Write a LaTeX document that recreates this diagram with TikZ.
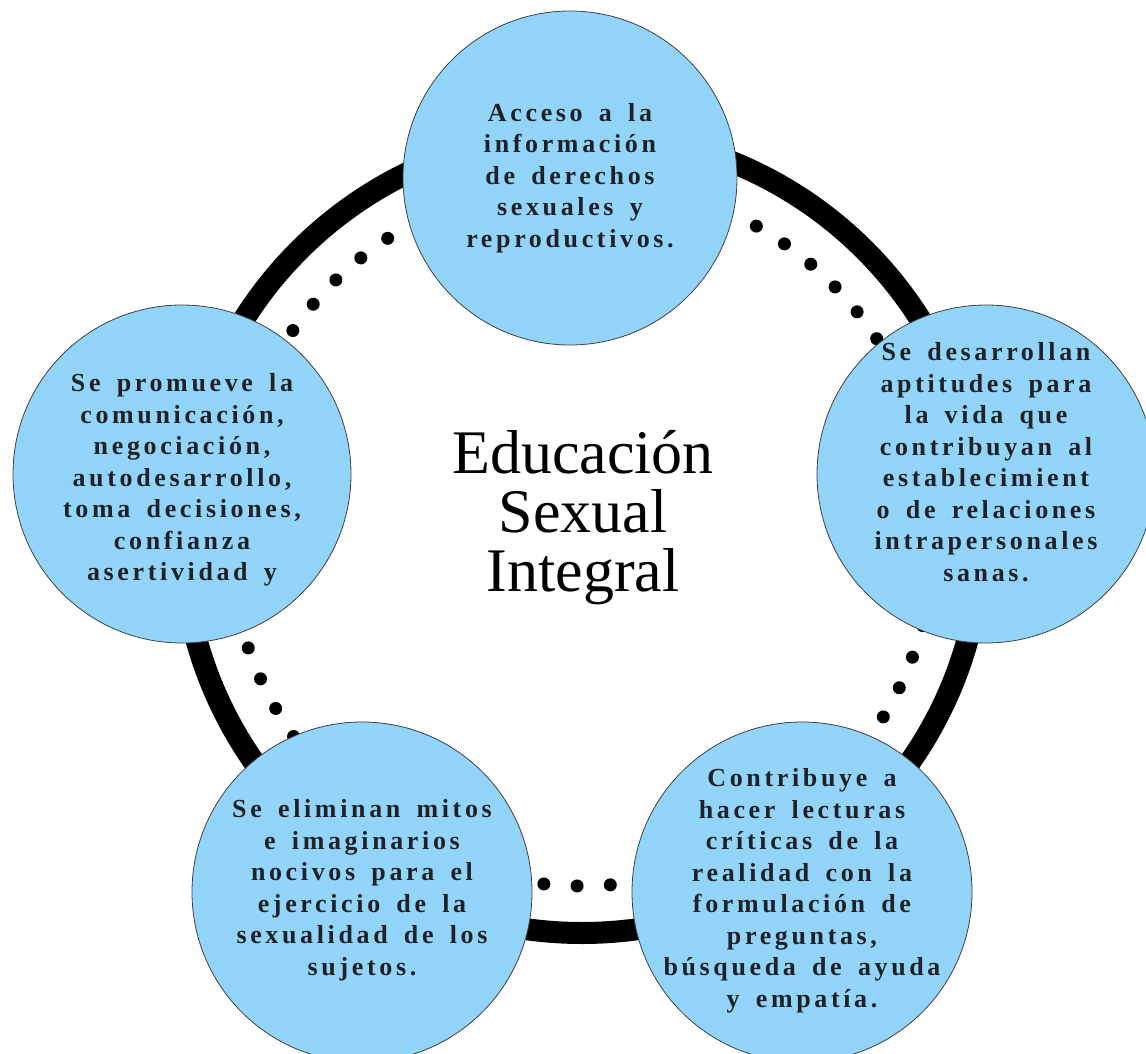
\documentclass[tikz,border=0pt]{standalone}
\usepackage{fontspec}
\setmainfont{Liberation Serif}
\newfontfamily\bubblefont[LetterSpace=14,WordSpace=1.6]{Liberation Serif}
\definecolor{bubblefill}{RGB}{147,213,250}
\definecolor{txt}{RGB}{30,34,38}
\begin{document}
\begin{tikzpicture}[x=1pt,y=-1pt,
  bubble/.style={circle, fill=bubblefill, draw=black!75, line width=0.8pt, minimum size=#1, inner sep=0pt},
  bubbletext/.style={align=center, font=\bubblefont\bfseries\fontsize{26}{31.5}\selectfont, text=txt, inner sep=0pt},
  title/.style={align=center, font=\fontsize{62}{59}\selectfont, text=black, inner sep=0pt}]
\fill[white] (0,0) rectangle (1146,1054);
\useasboundingbox (0,0) rectangle (1146,1054);
% outer thick ring
\draw[line width=22pt] (582,533) circle[radius=400pt];
% dotted inner ring
\foreach \k in {-33,...,33}
  \fill ({582+353*cos(90.8+5.4*\k)},{533+353*sin(90.8+5.4*\k)}) circle[radius=6.5pt];
% bubbles
\node[bubble=334pt] (c1) at (570,178) {};
\node[bubble=338pt] (c2) at (182,474) {};
\node[bubble=338pt] (c3) at (986,474) {};
\node[bubble=340pt] (c4) at (362,892) {};
\node[bubble=340pt] (c5) at (802,892) {};
% texts
\node[bubbletext] (t1) at (570,178) {Acceso a la\\información\\de derechos\\sexuales y\\reproductivos.};
\node[bubbletext] (t2) at (182,480) {Se promueve la\\comunicación,\\negociación,\\autodesarrollo,\\toma decisiones,\\confianza\\asertividad y};
\node[bubbletext] (t3) at (986,462) {Se desarrollan\\aptitudes para\\la vida que\\contribuyan al\\establecimient\\o de relaciones\\intrapersonales\\sanas.};
\node[bubbletext] (t4) at (362,890) {Se eliminan mitos\\e imaginarios\\nocivos para el\\ejercicio de la\\sexualidad de los\\sujetos.};
\node[bubbletext] (t5) at (802,891) {Contribuye a\\hacer lecturas\\críticas de la\\realidad con la\\formulación de\\preguntas,\\búsqueda de ayuda\\y empatía.};
\node[title] (title) at (583,518) {Educación\\Sexual\\Integral};
\end{tikzpicture}
\end{document}
